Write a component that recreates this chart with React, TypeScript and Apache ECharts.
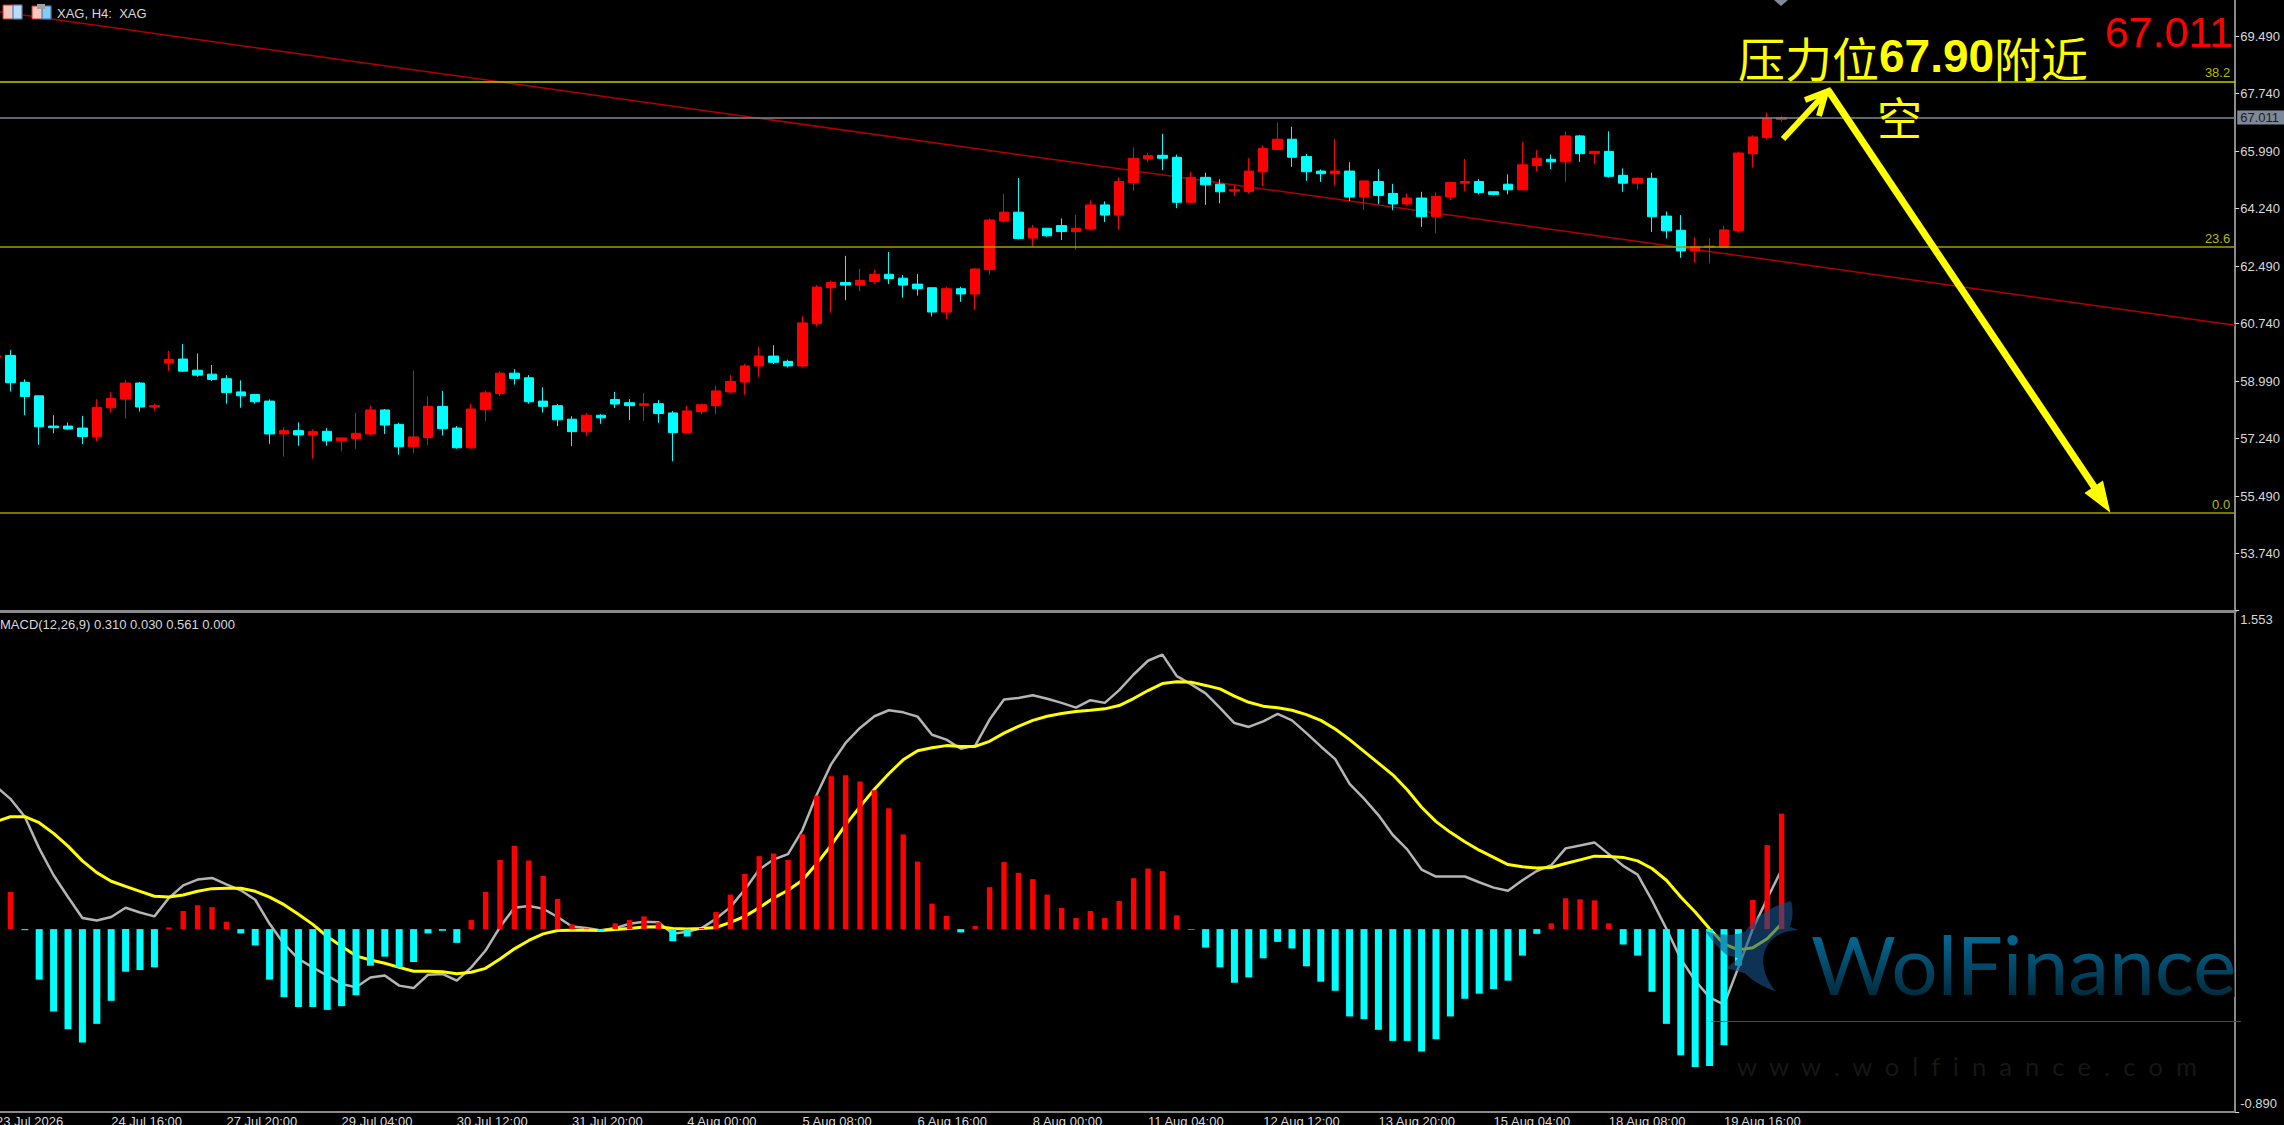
import React, { useEffect, useRef } from "react";
import * as echarts from "echarts";

const dateTicks = [
  "23 Jul 2026", "24 Jul 16:00", "27 Jul 20:00", "29 Jul 04:00", "30 Jul 12:00", "31 Jul 20:00",
  "4 Aug 00:00", "5 Aug 08:00", "6 Aug 16:00", "8 Aug 00:00", "11 Aug 04:00", "12 Aug 12:00",
  "13 Aug 20:00", "15 Aug 04:00", "18 Aug 08:00", "19 Aug 16:00",
];
const priceTicks = [69.49, 67.74, 65.99, 64.24, 62.49, 60.74, 58.99, 57.24, 55.49, 53.74];
const macdTicks = [1.553, -0.89];
const macdLabelSpots = [1.509, -0.851];
const lastPrice = 67.011;
const fibLevels = [
  { name: "38.2", value: 68.11 },
  { name: "23.6", value: 63.08 },
  { name: "0.0", value: 54.98 },
];
const trendLine = [[-0.5, 70.275], [155.5, 60.69]];

// open, close, low, high
const candles = [
  [59.72,59.76,59.70,59.78],
  [59.77,58.94,58.67,59.93],[58.95,58.52,57.95,59.04],[58.54,57.60,57.05,58.54],[57.62,57.57,57.40,57.95],
  [57.62,57.53,57.51,57.73],[57.56,57.30,57.07,57.93],[57.30,58.19,57.16,58.44],[58.18,58.46,58.03,58.65],
  [58.44,58.93,57.85,59.01],[58.93,58.20,58.06,58.96],[58.20,58.24,58.09,58.30],[59.54,59.65,59.30,59.91],
  [59.66,59.29,59.27,60.12],[59.32,59.17,59.12,59.83],[59.20,59.04,58.99,59.48],[59.06,58.64,58.30,59.17],
  [58.66,58.54,58.18,59.01],[58.58,58.36,58.30,58.60],[58.38,57.38,57.08,58.43],[57.38,57.48,56.69,57.59],
  [57.48,57.35,57.02,57.73],[57.35,57.45,56.63,57.52],[57.46,57.17,57.02,57.56],[57.17,57.26,56.85,57.26],
  [57.24,57.40,56.93,58.03],[57.38,58.11,57.32,58.25],[58.11,57.65,57.38,58.14],[57.67,56.99,56.75,57.72],
  [56.99,57.29,56.80,59.30],[57.27,58.22,57.04,58.52],[58.22,57.54,57.33,58.69],[57.56,56.96,56.93,57.62],
  [56.96,58.14,56.93,58.30],[58.12,58.63,57.78,58.69],[58.61,59.23,58.53,59.29],[59.23,59.07,58.88,59.35],
  [59.09,58.36,58.30,59.17],[58.38,58.22,58.03,58.80],[58.24,57.81,57.62,58.29],
  [57.83,57.45,57.01,57.92],[57.45,57.95,57.33,58.01],[57.95,57.87,57.69,57.98],[58.43,58.29,58.17,58.66],
  [58.33,58.24,57.80,58.44],[58.24,58.30,57.78,58.63],[58.30,58.00,57.72,58.41],[58.02,57.42,56.55,58.08],
  [57.42,58.08,57.39,58.24],[58.06,58.27,57.98,58.30],[58.24,58.69,57.98,58.85],[58.66,58.98,58.63,59.17],
  [58.96,59.45,58.57,59.51],[59.45,59.75,59.12,60.03],[59.75,59.56,59.51,60.08],[59.59,59.45,59.40,59.64],
  [59.45,60.76,59.40,60.96],[60.74,61.85,60.65,61.91],[61.83,61.99,61.07,62.05],[61.99,61.91,61.45,62.80],
  [61.91,62.05,61.72,62.41],[62.02,62.24,61.94,62.38],[62.24,62.11,61.94,62.92],[62.12,61.91,61.53,62.22],
  [61.94,61.80,61.59,62.25],[61.83,61.09,60.96,61.83],[61.09,61.80,60.88,61.86],[61.80,61.64,61.40,61.86],
  [61.64,62.40,61.15,62.43],[62.38,63.89,62.22,63.94],[63.86,64.13,63.81,64.68],[64.13,63.33,63.30,65.17],
  [63.34,63.64,63.08,63.74],[63.64,63.41,63.38,63.64],[63.72,63.54,63.28,63.94],[63.54,63.64,62.98,64.04],
  [63.62,64.35,63.57,64.49],[64.35,64.04,63.83,64.46],[64.04,65.06,63.59,65.19],[65.03,65.77,64.78,66.10],
  [65.75,65.85,65.65,65.94],[65.86,65.77,65.41,66.51],[65.80,64.43,64.25,65.88],[64.43,65.19,64.43,65.35],
  [65.19,64.96,64.35,65.33],[64.98,64.75,64.40,65.13],[64.77,64.81,64.62,64.94],[64.76,65.38,64.69,65.77],
  [65.36,66.07,64.92,66.17],[66.04,66.35,66.04,66.85],[66.35,65.80,65.51,66.73],[65.82,65.36,65.08,65.90],
  [65.38,65.30,65.05,65.43],[65.30,65.38,64.94,66.35],[65.38,64.59,64.47,65.65],[64.59,65.08,64.20,65.08],
  [65.06,64.64,64.37,65.44],[64.70,64.38,64.19,64.99],[64.38,64.56,64.32,64.70],[64.56,63.99,63.68,64.75],
  [63.99,64.61,63.49,64.73],[64.59,65.03,64.50,65.03],[65.01,65.06,64.77,65.75],[65.06,64.73,64.67,65.14],
  [64.75,64.67,64.64,64.76],[64.98,64.81,64.67,65.28],[64.81,65.57,64.81,66.26],[65.55,65.77,65.38,66.02],
  [65.74,65.66,65.44,65.88],[65.66,66.45,65.05,66.58],[66.45,65.91,65.66,66.48],[65.91,65.98,65.59,65.98],
  [65.98,65.22,65.18,66.59],[65.25,65.01,64.75,65.46],[65.01,65.16,64.83,65.19],[65.16,63.99,63.53,65.33],
  [64.01,63.56,63.33,64.15],[63.58,62.95,62.74,64.04],[62.95,63.08,62.59,63.37],[63.06,63.10,62.57,63.34],
  [63.06,63.59,63.06,63.71],[63.57,65.93,63.51,65.96],[65.91,66.42,65.49,66.47],[66.40,66.98,66.33,67.16],
  [66.95,67.011,66.88,67.05],
];

const histogram = [
  null,
  .181,-.005,-.246,-.401,-.487,-.552,-.461,-.349,-.207,-.199,-.186,.008,.088,.116,.107,.036,-.021,-.080,-.246,-.331,
  -.379,-.379,-.393,-.375,-.322,-.178,-.134,-.186,-.160,-.021,-.008,-.067,.044,.181,.337,.404,.334,.259,.147,.023,.003,-.013,
  .028,.044,.062,.033,-.059,-.036,.005,.083,.168,.269,.355,.368,.337,.461,.650,.744,.749,.718,.676,.588,.461,.329,.124,.064,
  -.016,.015,.204,.326,.274,.243,.168,.103,.054,.088,.054,.137,.248,.295,.282,.067,-.003,
  -.090,-.186,-.261,-.235,-.142,-.062,-.094,-.181,-.256,-.300,-.425,-.438,-.490,-.544,-.544,-.596,-.536,-.425,-.339,-.314,
  -.292,-.251,-.129,-.023,.028,.150,.145,.140,.028,-.075,-.129,-.305,-.461,-.614,-.671,-.666,-.565,-.178,.142,.409,.562,
];

const macdLine = [
  .694,.634,.547,.393,.262,.156,.054,.042,.059,.104,.081,.062,.151,.213,.241,.249,.218,.189,.143,.026,-.072,
  -.145,-.186,-.226,-.267,-.283,-.235,-.226,-.275,-.287,-.222,-.218,-.251,-.186,-.104,.010,.104,.112,.099,.059,.013,.005,-.007,
  .005,.026,.036,.033,-.023,-.013,.005,.050,.107,.192,.290,.339,.365,.482,.655,.803,.906,.979,1.036,1.065,1.055,1.034,.946,.922,
  .878,.893,1.020,1.117,1.125,1.138,1.121,1.101,1.078,1.114,1.101,1.163,1.239,1.306,1.336,1.231,1.191,
  1.147,1.077,1.003,.984,1.011,1.047,1.016,.954,.889,.827,.707,.635,.555,.458,.388,.290,.256,.256,.256,.228,
  .202,.187,.238,.283,.311,.393,.407,.422,.365,.308,.265,.140,.002,-.145,-.251,-.332,-.368,-.186,.002,.148,.290,
];

const signalLine = [
  .523,.547,.547,.518,.466,.404,.332,.275,.233,.208,.184,.160,.156,.166,.184,.197,.199,.199,.184,.156,.119,
  .072,.023,-.036,-.083,-.130,-.150,-.166,-.186,-.205,-.205,-.208,-.217,-.210,-.191,-.145,-.096,-.055,-.023,-.007,-.005,-.005,-.007,
  -.002,.003,.010,.011,.003,0,.003,.008,.033,.062,.104,.151,.189,.238,.319,.409,.507,.596,.681,.756,.824,.868,.883,.893,
  .889,.889,.914,.954,.987,1.016,1.036,1.049,1.059,1.065,1.072,1.088,1.122,1.161,1.195,1.204,1.202,
  1.186,1.169,1.134,1.104,1.085,1.077,1.065,1.044,1.016,.974,.922,.865,.808,.751,.678,.593,.523,.471,.425,.384,
  .349,.314,.303,.298,.300,.319,.337,.355,.353,.349,.332,.295,.238,.156,.083,.002,-.072,-.101,-.091,-.047,.026,
];

const SLOTS = 156;
const categories = Array.from({ length: SLOTS }, (_, i) =>
  i % 8 === 0 && i / 8 < dateTicks.length ? dateTicks[i / 8] : "",
);
const redBars = histogram.map((v) => (v !== null && v > 0 ? v : null));
const cyanBars = histogram.map((v) => (v !== null && v < 0 ? v : null));

const UI_FONT = "'Liberation Sans', Arial, sans-serif";
const CJK_FONT = "'Noto Sans CJK SC', sans-serif";
const YELLOW = "#ffff00";
const AXIS_GREY = "#8a8a8a";
const TEXT_GREY = "#d8d8d8";

const LOGO_PATH =
  "M288 33C240 45 190 70 150 125C110 140 70 135 30 122C50 150 70 175 95 195L130 205L95 235L150 250C170 270 200 290 243 305C205 260 195 210 215 170C235 135 270 122 310 120L285 110C295 85 295 55 288 33Z";

export default function App() {
  const ref = useRef<HTMLDivElement>(null);
  useEffect(() => {
    document.body.style.margin = "0";
    document.body.style.background = "#000";
    document.body.style.overflow = "hidden";
    echarts.graphic.registerShape("wolfLogo", echarts.graphic.extendPath(LOGO_PATH, {}) as any);
    const chart = echarts.init(ref.current!, undefined, { renderer: "svg" });
    const tickAt = (i: number) => i % 8 === 0 && i <= 120;
    const option: any = {
      animation: false,
      backgroundColor: "#000",
      grid: [
        { left: -11.2, width: 2246.4, top: 0, height: 611, outerBoundsMode: "none" },
        { left: -11.2, width: 2246.4, top: 610, height: 502, outerBoundsMode: "none" },
      ],
      xAxis: [
        {
          type: "category", gridIndex: 0, data: categories,
          axisLine: { onZero: false, lineStyle: { color: AXIS_GREY, width: 3 } },
          axisTick: { show: false }, axisLabel: { show: false }, splitLine: { show: false },
        },
        {
          type: "category", gridIndex: 1, data: categories,
          axisLine: { onZero: false, lineStyle: { color: AXIS_GREY, width: 2 } },
          axisTick: { alignWithLabel: true, interval: tickAt, length: 4, lineStyle: { color: TEXT_GREY } },
          axisLabel: {
            interval: tickAt, align: "left", color: TEXT_GREY, fontFamily: UI_FONT, fontSize: 13, margin: 3,
            hideOverlap: false,
          },
          splitLine: { show: false },
        },
        { type: "category", gridIndex: 1, data: categories, show: false, axisLine: { onZero: false } },
        { type: "value", gridIndex: 0, min: -0.5, max: SLOTS - 0.5, show: false, splitLine: { show: false }, axisLine: { onZero: false } },
      ],
      yAxis: [
        {
          type: "value", gridIndex: 0, position: "right", min: 51.992, max: 70.586, scale: true,
          splitLine: { show: false },
          axisLine: { show: true, onZero: false, lineStyle: { color: AXIS_GREY, width: 2 } },
          axisTick: { show: true, length: 4, customValues: priceTicks, lineStyle: { color: TEXT_GREY } },
          axisLabel: {
            customValues: priceTicks, color: TEXT_GREY, fontFamily: UI_FONT, fontSize: 13, margin: 5,
            formatter: (v: number) => v.toFixed(3),
          },
        },
        {
          type: "value", gridIndex: 1, position: "right", min: -0.89, max: 1.553, scale: true,
          splitLine: { show: false },
          axisLine: { show: true, onZero: false, lineStyle: { color: AXIS_GREY, width: 2 } },
          axisTick: { show: true, length: 4, customValues: macdTicks, lineStyle: { color: TEXT_GREY } },
          axisLabel: {
            customValues: macdLabelSpots, color: TEXT_GREY, fontFamily: UI_FONT, fontSize: 13, margin: 5,
            formatter: (v: number) => (v > 0 ? macdTicks[0] : macdTicks[1]).toFixed(3),
          },
        },
      ],
      series: [
        {
          name: "Trend", type: "line", xAxisIndex: 3, yAxisIndex: 0, data: trendLine, symbol: "none", z: 1,
          lineStyle: { color: "#b00000", width: 1.5 }, silent: true,
          markLine: {
            silent: true, symbol: "none", animation: false,
            data: [
              {
                yAxis: lastPrice,
                lineStyle: { color: "#7e8896", width: 1.5, type: "solid" },
                label: {
                  show: true, position: "end", distance: 2, formatter: lastPrice.toFixed(3),
                  color: "#1c1c1c", backgroundColor: "#7e8896", padding: [1, 5, 0, 3],
                  fontFamily: UI_FONT, fontSize: 13,
                },
              },
              ...fibLevels.map((f, i) => ({
                yAxis: f.value,
                lineStyle: { color: i === 0 ? "#c8c800" : "#a0a000", width: 1.5, type: "solid" },
                label: {
                  show: true, position: "insideEndTop", distance: 2, formatter: f.name,
                  color: "#b8b800", fontFamily: UI_FONT, fontSize: 13, padding: [0, 3, 0, 0],
                },
              })),
            ],
          },
        },
        {
          name: "XAG", type: "candlestick", xAxisIndex: 0, yAxisIndex: 0, data: candles, barWidth: 10, z: 3,
          itemStyle: {
            color: "#ff0000", color0: "#00ffff", borderColor: "#ff0000", borderColor0: "#00ffff", borderWidth: 1,
          },
        },
        {
          name: "MACD", type: "line", xAxisIndex: 1, yAxisIndex: 1, data: macdLine, symbol: "none", z: 2,
          lineStyle: { color: "#b4b4b4", width: 2.5 },
        },
        {
          name: "Signal", type: "line", xAxisIndex: 1, yAxisIndex: 1, data: signalLine, symbol: "none", z: 2,
          lineStyle: { color: YELLOW, width: 3 },
        },
        {
          name: "Hist+", type: "bar", xAxisIndex: 1, yAxisIndex: 1, data: redBars, barWidth: 5.4, z: 3,
          itemStyle: { color: "#ff0000" },
        },
        {
          name: "Hist-", type: "bar", xAxisIndex: 2, yAxisIndex: 1, data: cyanBars, barWidth: 7, z: 3,
          itemStyle: { color: "#00ffff" },
        },
      ],
      graphic: [
        // top-left toolbar icons and title
        { type: "rect", z: 50, shape: { x: 3, y: 5, width: 19, height: 14 }, style: { fill: "#f4c8c0", stroke: "#d03020", lineWidth: 1 } },
        { type: "rect", z: 51, shape: { x: 13, y: 5, width: 9, height: 14 }, style: { fill: "#bcdcf4", stroke: "#1878c0", lineWidth: 1 } },
        { type: "rect", z: 50, shape: { x: 32, y: 6, width: 19, height: 13 }, style: { fill: "#f8c8c0", stroke: "#d03020", lineWidth: 1 } },
        { type: "rect", z: 51, shape: { x: 42, y: 6, width: 9, height: 13 }, style: { fill: "#8cc8f0", stroke: "#1878c0", lineWidth: 1 } },
        { type: "rect", z: 52, shape: { x: 37, y: 4, width: 8, height: 5 }, style: { fill: "#a0a0a0" } },
        { type: "text", z: 50, x: 57, y: 13, style: { text: "XAG, H4:  XAG", fill: TEXT_GREY, font: `13px ${UI_FONT}`, verticalAlign: "middle" } },
        { type: "text", z: 50, x: 0, y: 624, style: { text: "MACD(12,26,9) 0.310 0.030 0.561 0.000", fill: TEXT_GREY, font: `13px ${UI_FONT}`, verticalAlign: "middle" } },
        // current-bar marker at the top edge
        { type: "polygon", z: 50, shape: { points: [[1774, 0], [1788, 0], [1781, 6]] }, style: { fill: "#808a96" } },
        // hand-drawn annotation
        {
          type: "text", z: 60, x: 1738, y: 56,
          style: {
            text: "{a|压力位}{b|67.90}{a|附近}", verticalAlign: "middle",
            rich: {
              a: { fontFamily: CJK_FONT, fontSize: 47, fill: YELLOW },
              b: { fontFamily: UI_FONT, fontSize: 46, fontWeight: "bold", fill: YELLOW },
            },
          },
        },
        { type: "text", z: 60, x: 1877, y: 116, style: { text: "空", fill: YELLOW, font: `45px ${CJK_FONT}`, verticalAlign: "middle" } },
        { type: "text", z: 60, x: 2233, y: 32, style: { text: "67.011", fill: "#ff0000", font: `43px ${UI_FONT}`, align: "right", verticalAlign: "middle" } },
        { type: "line", z: 60, shape: { x1: 1783, y1: 139, x2: 1822, y2: 97 }, style: { stroke: YELLOW, lineWidth: 6 } },
        { type: "polyline", z: 60, shape: { points: [[1805, 100], [1826, 92], [1819, 116]] }, style: { stroke: YELLOW, lineWidth: 6, fill: "none" } },
        { type: "line", z: 60, shape: { x1: 1828, y1: 90, x2: 2103, y2: 500 }, style: { stroke: YELLOW, lineWidth: 7 } },
        { type: "polygon", z: 60, shape: { points: [[2108, 509], [2102, 483], [2087, 493]] }, style: { fill: YELLOW, stroke: YELLOW, lineWidth: 3 } },
        // watermark
        { type: "line", z: 40, shape: { x1: 1711, y1: 1021.5, x2: 2241, y2: 1021.5 }, style: { stroke: "#4a4a4a", lineWidth: 1 } },
        {
          type: "wolfLogo", z: 70, x: 1695, y: 890, scaleX: 1 / 3, scaleY: 1 / 3,
          style: { fill: "rgba(22,84,140,0.6)" },
        },
        {
          type: "text", z: 70, x: 1811, y: 963,
          style: { text: "WolFinance", verticalAlign: "middle", font: `82px Lato, sans-serif`, fill: "#046490" },
        },
        {
          type: "rect", z: 71, shape: { x: 1805, y: 925, width: 430, height: 72 },
          style: {
            fill: new echarts.graphic.LinearGradient(0, 0, 0, 1, [
              { offset: 0.2, color: "rgba(0,0,0,0)" },
              { offset: 0.95, color: "rgba(0,0,0,0.55)" },
            ]),
          },
        },
        {
          type: "text", z: 40, x: 1737, y: 1066,
          style: { text: "w  w  w  .  w  o  l  f  i  n  a  n  c  e  .  c  o  m", fill: "#161616", font: `25.5px Lato, sans-serif`, verticalAlign: "middle" },
        },
      ],
    };
    chart.setOption(option);
    return () => chart.dispose();
  }, []);
  return <div ref={ref} style={{ width: 2284, height: 1125, background: "#000" }} />;
}
